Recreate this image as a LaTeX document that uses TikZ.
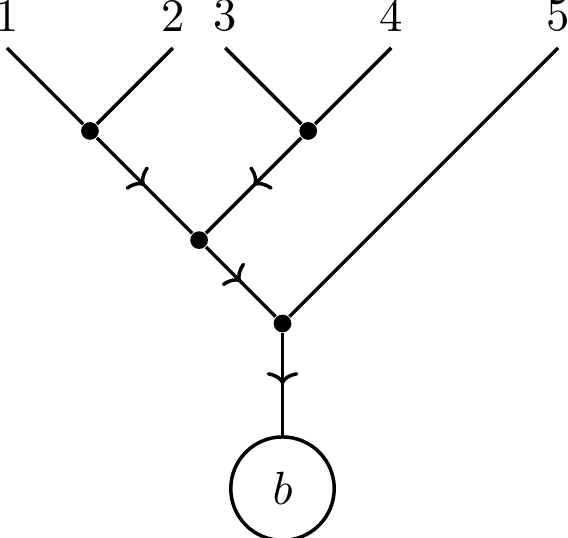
\documentclass[tikz,border=0pt]{standalone}
\usetikzlibrary{positioning,arrows.meta,decorations.markings}
\tikzset{
  vert/.style={circle,fill=black,inner sep=0pt,minimum size=3.8pt},
  blob/.style={circle,draw=black,line width=0.75pt,minimum size=22.2pt,inner sep=0pt},
  leg/.style={line width=0.75pt},
  flow/.style={line width=0.75pt,postaction={decorate},
    decoration={markings,mark=at position 0.5 with {\arrow{To[width=6.8pt,length=2.6pt]}}}},
}

\begin{document}
\begin{tikzpicture}[x=0.626cm,y=0.626cm]
  \useasboundingbox (-0.084,0.578) rectangle (6.76,-5.90);
  % --- external legs ---
  \foreach \name/\x/\lab in {l1/0/1,l2/2/2,l3/2.63/3,l4/4.63/4,l5/6.64/5}{
    \coordinate (\name) at (\x,0);
    \node[above] (t\name) at (\name) {\lab};}
  % --- vertices ---
  \node[vert] (d1) at (1,-1) {};
  \node[vert] (d2) at (3.63,-1) {};
  \node[vert] (d3) at (2.315,-2.315) {};
  \node[vert] (d4) at (3.32,-3.32) {};
  \node[blob] (b) at (3.32,-5.31) {$b$};
  % --- lines ---
  \draw[leg] (l1) -- (d1);
  \draw[leg] (l2) -- (d1);
  \draw[leg] (l3) -- (d2);
  \draw[leg] (l4) -- (d2);
  \draw[leg] (l5) -- (d4);
  \draw[flow] (d1) -- (d3);
  \draw[flow] (d2) -- (d3);
  \draw[flow] (d3) -- (d4);
  \draw[flow] (d4) -- (b);
\end{tikzpicture}
\end{document}
